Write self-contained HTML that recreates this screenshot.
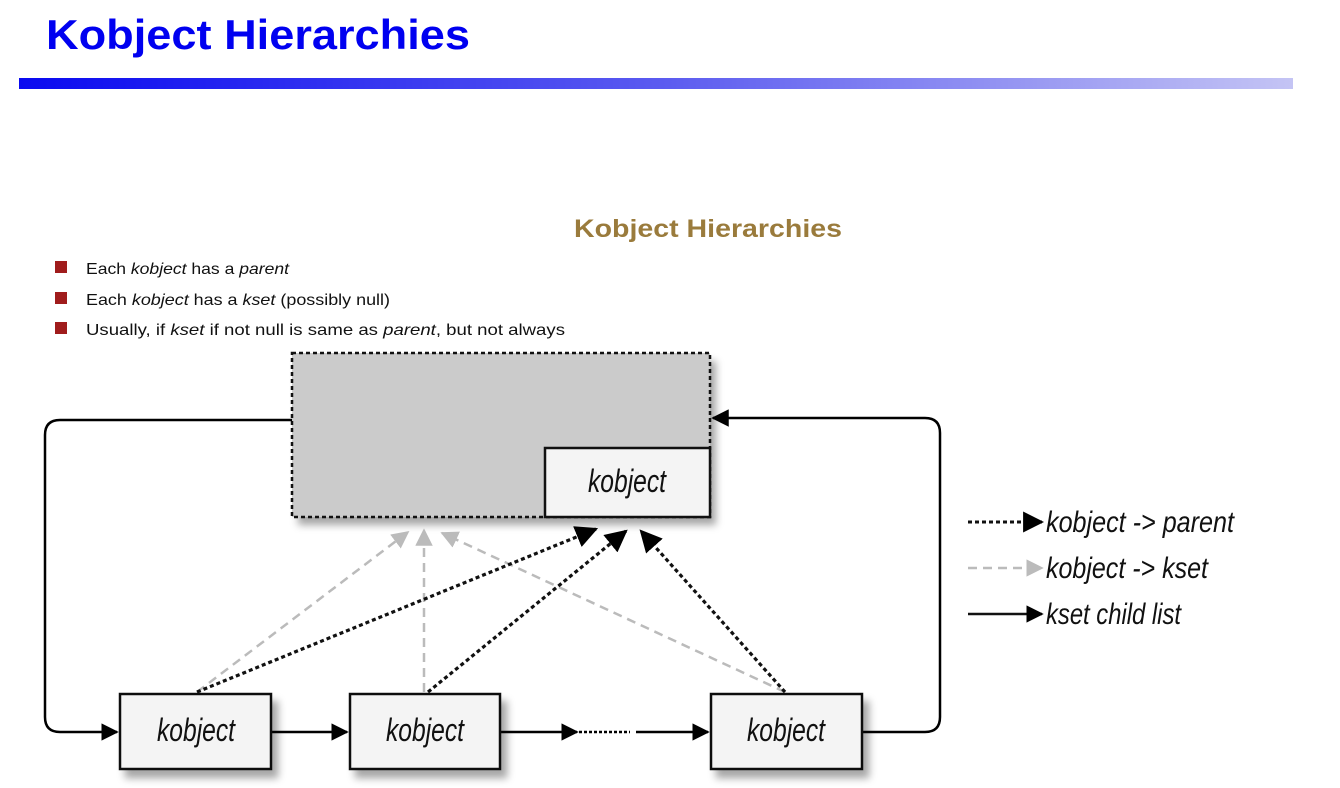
<!DOCTYPE html>
<html><head><meta charset="utf-8"><style>body{margin:0;background:#fff}svg{display:block}</style></head>
<body>
<svg width="1340" height="788" viewBox="0 0 1340 788" xmlns="http://www.w3.org/2000/svg" font-family="Liberation Sans, sans-serif">
<defs>
<linearGradient id="bar" x1="0" x2="1"><stop offset="0" stop-color="#0a0af0"/><stop offset="0.5" stop-color="#5a5af0"/><stop offset="1" stop-color="#c4c4f4"/></linearGradient>
<marker id="ab" viewBox="0 0 10 10" refX="9" refY="5" markerWidth="7" markerHeight="7" orient="auto" markerUnits="strokeWidth"><path d="M0 0L10 5L0 10z" fill="#000"/></marker>
<marker id="ag" viewBox="0 0 10 10" refX="9" refY="5" markerWidth="7" markerHeight="7" orient="auto" markerUnits="strokeWidth"><path d="M0 0L10 5L0 10z" fill="#bbb"/></marker>
<filter id="sh" x="-10%" y="-10%" width="130%" height="140%"><feDropShadow dx="6" dy="8" stdDeviation="4" flood-color="#000" flood-opacity="0.35"/></filter>
</defs>
<text x="46" y="49" font-size="42" font-weight="bold" fill="#0000f0" textLength="424" lengthAdjust="spacingAndGlyphs">Kobject Hierarchies</text>
<rect x="19" y="78" width="1274" height="11" fill="url(#bar)"/>
<text x="708" y="237" font-size="25" font-weight="bold" fill="#9a7b3c" text-anchor="middle" textLength="268" lengthAdjust="spacingAndGlyphs">Kobject Hierarchies</text>
<g fill="#a01c1c"><rect x="55" y="261" width="12" height="12"/><rect x="55" y="292" width="12" height="12"/><rect x="55" y="322" width="12" height="12"/></g>
<g font-size="16" fill="#111">
<text x="86" y="274" textLength="203" lengthAdjust="spacingAndGlyphs">Each <tspan font-style="italic">kobject</tspan> has a <tspan font-style="italic">parent</tspan></text>
<text x="86" y="305" textLength="304" lengthAdjust="spacingAndGlyphs">Each <tspan font-style="italic">kobject</tspan> has a <tspan font-style="italic">kset</tspan> (possibly null)</text>
<text x="86" y="335" textLength="479" lengthAdjust="spacingAndGlyphs">Usually, if <tspan font-style="italic">kset</tspan> if not null is same as <tspan font-style="italic">parent</tspan>, but not always</text>
</g>
<rect x="292" y="353" width="418" height="164" fill="#cbcbcb" filter="url(#sh)"/>
<rect x="292" y="353" width="418" height="164" fill="none" stroke="#111" stroke-width="2.5" stroke-dasharray="4,3"/>
<rect x="545" y="448" width="165" height="69" fill="#f4f4f4" stroke="#111" stroke-width="2.5"/>
<path d="M292 420 H60 Q45 420 45 435 V717 Q45 732 60 732 H117" fill="none" stroke="#000" stroke-width="2.5" marker-end="url(#ab)"/>
<path d="M862 732 H925 Q940 732 940 717 V433 Q940 418 925 418 H713" fill="none" stroke="#000" stroke-width="2.5" marker-end="url(#ab)"/>
<line x1="271" y1="732" x2="347" y2="732" stroke="#000" stroke-width="2.5" marker-end="url(#ab)"/>
<line x1="500" y1="732" x2="577" y2="732" stroke="#000" stroke-width="2.5" marker-end="url(#ab)"/>
<line x1="579" y1="732" x2="630" y2="732" stroke="#000" stroke-width="2.5" stroke-dasharray="3,2"/>
<line x1="636" y1="732" x2="708" y2="732" stroke="#000" stroke-width="2.5" marker-end="url(#ab)"/>
<g stroke="#bbb" stroke-width="2.5" stroke-dasharray="9,6" fill="none">
<line x1="197" y1="692" x2="408" y2="532" marker-end="url(#ag)"/>
<line x1="424" y1="692" x2="424" y2="530" marker-end="url(#ag)"/>
<line x1="785" y1="692" x2="442" y2="533" marker-end="url(#ag)"/>
</g>
<g stroke="#111" stroke-width="3.2" stroke-dasharray="4,3" fill="none">
<line x1="197" y1="692" x2="596" y2="529" marker-end="url(#ab)"/>
<line x1="428" y1="692" x2="626" y2="531" marker-end="url(#ab)"/>
<line x1="785" y1="692" x2="641" y2="531" marker-end="url(#ab)"/>
</g>
<g stroke="#111" stroke-width="2.5" fill="#f4f4f4">
<rect x="120" y="694" width="151" height="75" filter="url(#sh)"/>
<rect x="350" y="694" width="150" height="75" filter="url(#sh)"/>
<rect x="711" y="694" width="151" height="75" filter="url(#sh)"/>
</g>
<g font-size="32" font-style="italic" fill="#111" text-anchor="middle">
<text x="627" y="492" textLength="78" lengthAdjust="spacingAndGlyphs">kobject</text>
<text x="196" y="741" textLength="78" lengthAdjust="spacingAndGlyphs">kobject</text>
<text x="425" y="741" textLength="78" lengthAdjust="spacingAndGlyphs">kobject</text>
<text x="786" y="741" textLength="78" lengthAdjust="spacingAndGlyphs">kobject</text>
</g>
<line x1="968" y1="522" x2="1042" y2="522" stroke="#111" stroke-width="3" stroke-dasharray="4,3" marker-end="url(#ab)"/>
<line x1="968" y1="568" x2="1042" y2="568" stroke="#bbb" stroke-width="2.5" stroke-dasharray="9,6" marker-end="url(#ag)"/>
<line x1="968" y1="614" x2="1042" y2="614" stroke="#111" stroke-width="2.5" marker-end="url(#ab)"/>
<g font-size="30" font-style="italic" fill="#111">
<text x="1046" y="532" textLength="188" lengthAdjust="spacingAndGlyphs">kobject -&gt; parent</text>
<text x="1046" y="578" textLength="162" lengthAdjust="spacingAndGlyphs">kobject -&gt; kset</text>
<text x="1046" y="624" textLength="135" lengthAdjust="spacingAndGlyphs">kset child list</text>
</g>
</svg>
</body></html>
